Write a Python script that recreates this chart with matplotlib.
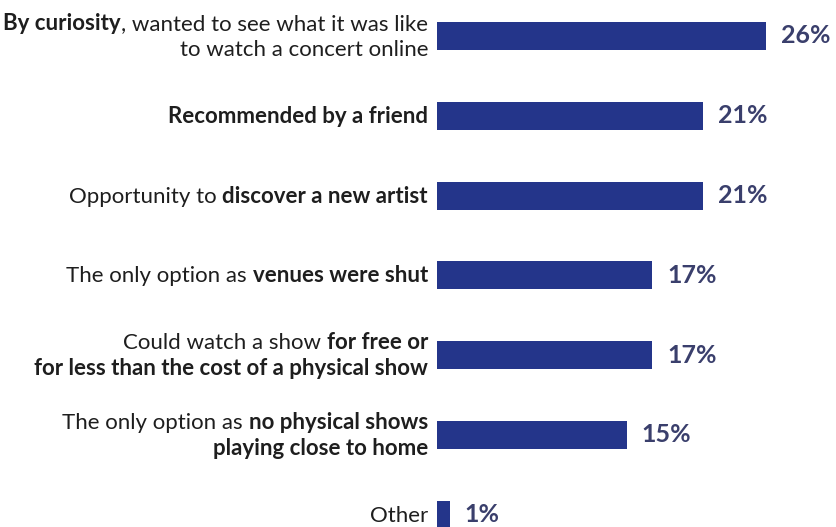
import matplotlib
matplotlib.use("Agg")
import matplotlib.pyplot as plt
from matplotlib.transforms import IdentityTransform

# Survey answers: reasons for watching a concert online (share of respondents, %)
values = [26, 21, 21, 17, 17, 15, 1]

# Each label is a list of lines; each line is a list of (text, is_bold) pieces
labels = [
    [[("By curiosity", True), (", wanted to see what it was like", False)],
     [("to watch a concert online", False)]],
    [[("Recommended by a friend", True)]],
    [[("Opportunity to ", False), ("discover a new artist", True)]],
    [[("The only option as ", False), ("venues were shut", True)]],
    [[("Could watch a show ", False), ("for free or", True)],
     [("for less than the cost of a physical show", True)]],
    [[("The only option as ", False), ("no physical shows", True)],
     [("playing close to home", True)]],
    [[("Other", False)]],
]

W, H, DPI = 836, 527, 100
BAR_COLOR = "#24358a"
PCT_COLOR = "#3a3f6c"
TEXT_COLOR = "#1e1e1e"
FONT = ["Lato", "DejaVu Sans"]

fig = plt.figure(figsize=(W / DPI, H / DPI), dpi=DPI)
fig.patch.set_facecolor("white")

# Axes start where the bars begin; x scale ~12.65 px per percent
px_per_pct = 12.65
ax_left = 437
xmax = (W - ax_left) / px_per_pct
ax = fig.add_axes([ax_left / W, 0, 1 - ax_left / W, 1])
ax.set_xlim(0, xmax)
step = 79.8
first = 36.0
ax.set_ylim((H - first) / step, -first / step)
ax.axis("off")

ypos = list(range(len(values)))
ax.barh(ypos, values, height=0.35, color=BAR_COLOR, edgecolor="none")

for y, v in zip(ypos, values):
    ax.annotate(f"{v}%", xy=(v, y), xytext=(15, 0), textcoords="offset pixels",
                ha="left", va="center", fontsize=18, fontweight="bold",
                color=PCT_COLOR, family=FONT)

fig.canvas.draw()
renderer = fig.canvas.get_renderer()

label_right = 428
line_gap = 26
for y, lines in zip(ypos, labels):
    _, cy = ax.transData.transform((0, y))
    n = len(lines)
    # baseline of the first line (display coords, y up)
    if n == 1:
        base0 = cy - 7
    else:
        base0 = cy + 6
    for k, pieces in enumerate(lines):
        base = base0 - k * line_gap
        x = label_right
        for txt, bold in reversed(pieces):
            t = fig.text(x, base, txt, transform=IdentityTransform(),
                         ha="right", va="baseline", fontsize=16,
                         fontweight="bold" if bold else "normal",
                         color=TEXT_COLOR, family=FONT)
            bb = t.get_window_extent(renderer)
            x = bb.x0

fig.savefig("out.png", dpi=DPI, facecolor="white")
